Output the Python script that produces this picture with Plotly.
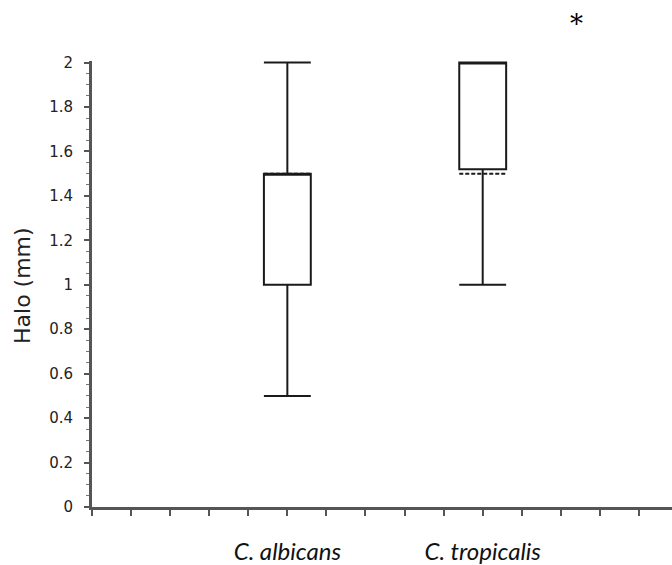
import plotly.graph_objects as go

categories = ["C. albicans", "C. tropicalis"]
lower_whisker = [0.5, 1.0]
q1_values = [1.0, 1.52]
median_values = [1.5, 2.0]
q3_values = [1.5, 2.0]
upper_whisker = [2.0, 2.0]
mean_values = [1.5, 1.5]
y_ticks = [0, 0.2, 0.4, 0.6, 0.8, 1, 1.2, 1.4, 1.6, 1.8, 2]

cat_pos = [5, 10]

fig = go.Figure()
fig.add_trace(go.Box(
    x=cat_pos,
    q1=q1_values, median=median_values, q3=q3_values,
    lowerfence=lower_whisker, upperfence=upper_whisker,
    mean=mean_values, boxmean=True,
    width=1.2, whiskerwidth=1,
    fillcolor="white",
    line=dict(color="#1a1a1a", width=2),
    showlegend=False, hoverinfo="skip",
))

tickvals = list(range(0, 15))
ticktext = [categories[cat_pos.index(v)] if v in cat_pos else "" for v in tickvals]

fig.update_layout(
    width=672, height=565,
    margin=dict(l=92, r=0, t=61, b=54),
    paper_bgcolor="white", plot_bgcolor="white",
    font=dict(family="DejaVu Sans", color="#222222"),
    xaxis=dict(
        range=[0, 14.845], tickvals=tickvals, ticktext=ticktext,
        showgrid=False, zeroline=False,
        showline=True, linecolor="#555555", linewidth=3,
        ticks="outside", ticklen=6, tickcolor="#555555", tickwidth=1.5,
        ticklabelstandoff=15,
        tickfont=dict(family="Lato", size=24, color="#111111", style="italic"),
    ),
    yaxis=dict(
        range=[0, 2.007], tickvals=y_ticks,
        showgrid=False, zeroline=False,
        showline=True, linecolor="#555555", linewidth=3,
        ticks="outside", ticklen=5, tickcolor="#555555", tickwidth=1.5,
        minor=dict(dtick=0.05, ticks="outside", ticklen=3, tickcolor="#777777", tickwidth=1),
        tickfont=dict(family="DejaVu Sans", size=15, color="#222222"),
        ticklabelstandoff=8,
    ),
    annotations=[
        dict(text="Halo (mm)", xref="paper", yref="paper",
             x=(23 - 92) / 580, y=(511 - 288) / 450, xanchor="center", yanchor="middle",
             textangle=-90, showarrow=False,
             font=dict(family="DejaVu Sans", size=22, color="#222222")),
        dict(text="*", xref="paper", yref="paper",
             x=(576 - 92) / 580, y=(511 - 24) / 450, xanchor="center", yanchor="middle",
             showarrow=False,
             font=dict(family="DejaVu Serif", size=26, color="#000000")),
    ],
)

fig.write_html("out.html")
